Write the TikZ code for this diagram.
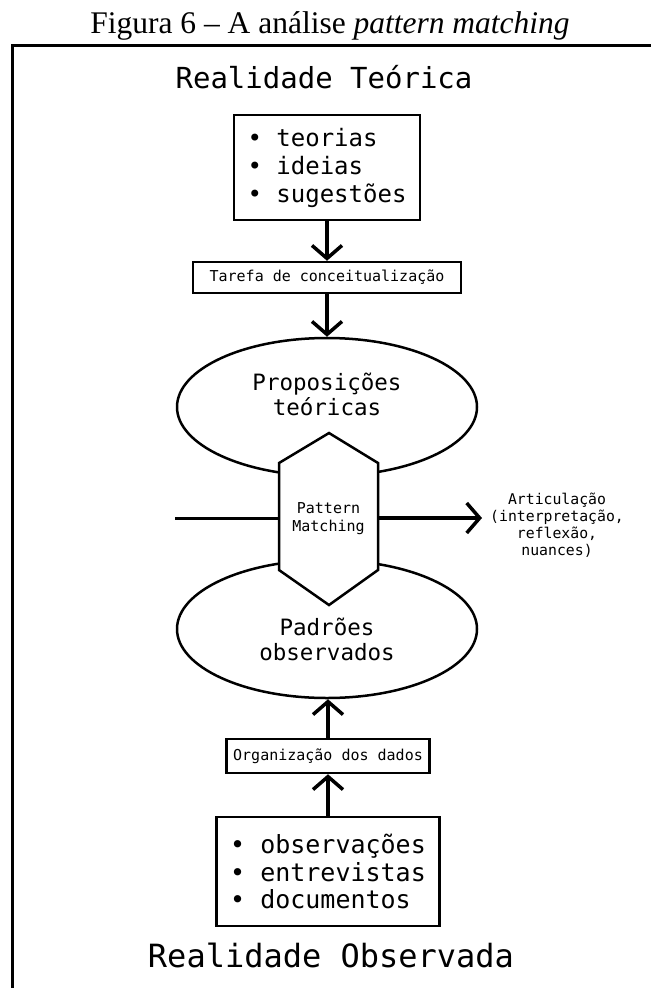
\documentclass[tikz,border=0pt]{standalone}
\usepackage{fontspec}
\setmainfont{Liberation Serif}
\newfontfamily\diagfont{DejaVu Sans Mono}
\usetikzlibrary{arrows.meta,shapes.geometric}

\begin{document}
\begin{tikzpicture}[x=1pt,y=-1pt,>={Straight Barb[length=13pt,width=30pt]},
   box/.style={draw,line width=2.5pt,inner sep=0pt},
   oval/.style={draw,ellipse,line width=2.5pt,inner sep=0pt,minimum width=300pt,minimum height=138pt},
   ttl/.style={anchor=base,font=\diagfont\fontsize{32}{38}\selectfont},
   lst/.style={box,align=left},
   sml/.style={font=\diagfont\fontsize{15}{18}\selectfont,align=center},
   big/.style={font=\diagfont\fontsize{22.5}{25}\selectfont,align=center},
   ar/.style={line width=3.5pt,->}]
  \useasboundingbox (0,0) rectangle (651,988);
  % caption and frame
  \node[anchor=base,font=\fontsize{31.5}{36}\selectfont] (cap) at (330,33){Figura 6 – A análise \textit{pattern matching}};
  \draw[line width=3pt] (12,988)--(12,45)--(651,45);
  % theory side
  \node[ttl,font=\diagfont\fontsize{29}{34}\selectfont] (teo) at (324,88){Realidade Teórica};
  \node[lst,font=\diagfont\fontsize{24}{28}\selectfont,minimum width=186pt,minimum height=105pt] (ideas) at (327,167.5){• teorias\\• ideias\\• sugestões};
  \node[box,sml,minimum width=268pt,minimum height=31pt] (taref) at (327,277.5){Tarefa de conceitualização};
  % ellipses and the hexagon over them
  \node[oval] (prop) at (327,407){};
  \node[oval] (obs) at (327,629){};
  \draw[line width=2.5pt,fill=white] (329,433)--(378,463)--(378,570)--(329,605)--(279,570)--(279,463)--cycle;
  \node[big] (proptxt) at (327,394){Proposições\\teóricas};
  \node[big] (obstxt) at (327,639){Padrões\\observados};
  \node[sml,inner sep=0pt,minimum width=99pt,minimum height=107pt] (pm) at (328.5,519){Pattern\\Matching};
  % articulation
  \coordinate (lin) at (175,518);
  \node[sml,font=\diagfont\fontsize{14.8}{17}\selectfont,anchor=west,inner sep=0pt] (artic) at (490,525){Articulação\\(interpretação,\\reflexão,\\nuances)};
  \draw[line width=3pt] (lin)--(lin -| pm.west);
  \draw[ar,shorten >=8pt] (pm.east |- lin)--(artic.west |- lin);
  % observed side
  \node[box,sml,minimum width=203pt,minimum height=34pt] (org) at (328,756){Organização dos dados};
  \node[lst,font=\diagfont\fontsize{25}{27.5}\selectfont,minimum width=223pt,minimum height=109pt] (data) at (328,871.5){• observações\\• entrevistas\\• documentos};
  \node[ttl] (obsv) at (331,967){Realidade Observada};
  % arrows
  \draw[ar] (ideas.south)--(taref.north);
  \draw[ar] (taref.south)--(prop.north);
  \draw[ar] (org.north)--(obs.south -| org.north);
  \draw[ar] (data.north)--(org.south);
\end{tikzpicture}
\end{document}
